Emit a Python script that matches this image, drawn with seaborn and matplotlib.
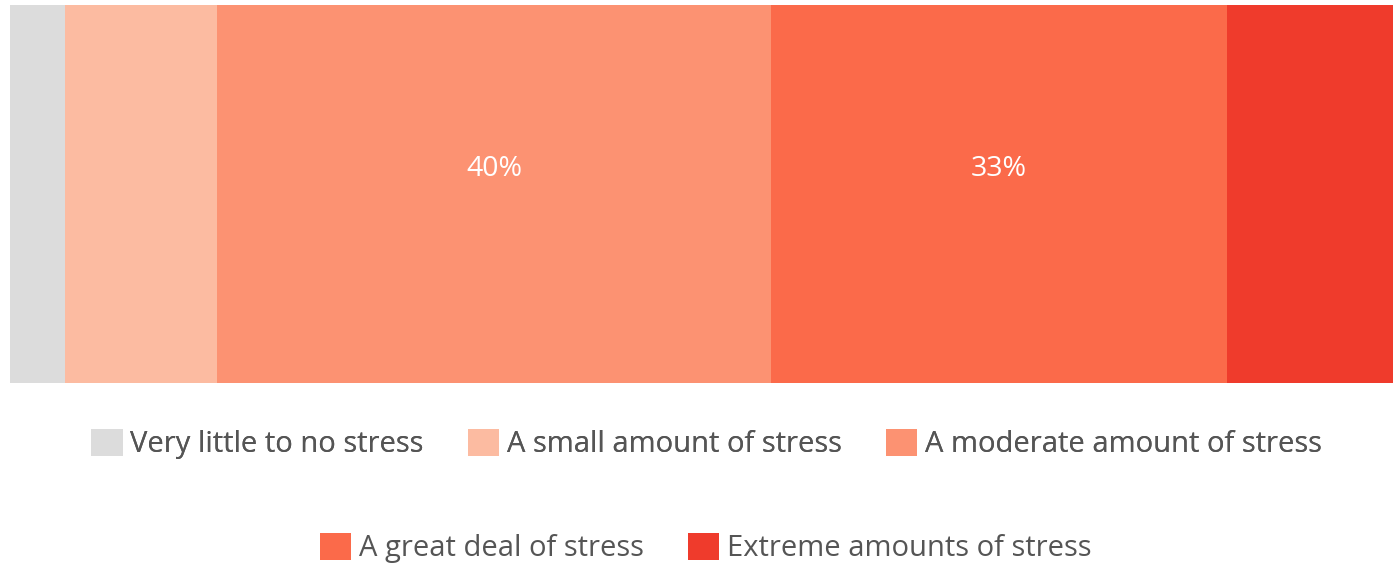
import numpy as np
import pandas as pd
import matplotlib
matplotlib.use("Agg")
import matplotlib.pyplot as plt
import seaborn as sns
from matplotlib.patches import Patch

# Data
categories = ["Very little to no stress", "A small amount of stress",
              "A moderate amount of stress", "A great deal of stress",
              "Extreme amounts of stress"]
percentages = [4, 11, 40, 33, 12]
colors = ["#dcdcdc", "#fcbba1", "#fc9272", "#fb6a4a", "#ef3b2c"]
shown_labels = ["", "", "40%", "33%", ""]

sns.set_theme(style="white")
plt.rcParams["font.family"] = ["Open Sans", "DejaVu Sans"]

fig = plt.figure(figsize=(13.93, 5.66), dpi=100)
ax = fig.add_axes([10 / 1393, 1 - 383 / 566, 1383 / 1393, 378 / 566])

# stacked bars: draw cumulative totals from largest to smallest
cum = np.cumsum(percentages)
for i in reversed(range(len(categories))):
    sns.barplot(x=[cum[i]], y=["Stress"], color=colors[i], width=1.0,
                saturation=1, orient="h", ax=ax, edgecolor="none", linewidth=0)

ax.set_xlim(0, 100)
ax.set_ylim(0.5, -0.5)
ax.axis("off")

starts = cum - np.array(percentages)
for s, p, lab in zip(starts, percentages, shown_labels):
    if lab:
        ax.text(s + p / 2, -0.065, lab, ha="center", va="center",
                color="white", fontsize=20.5)

handles = [Patch(facecolor=c, edgecolor="none") for c in colors]
leg_kw = dict(frameon=False, fontsize=21, handlelength=1.08, handleheight=1.08,
              handletextpad=0.27, columnspacing=1.5, labelcolor="#555555")
leg1 = fig.legend(handles[:3], categories[:3], ncol=3, loc="center",
                  bbox_to_anchor=(0.5 + 10 / 1393, 1 - 444 / 566), **leg_kw)
fig.add_artist(leg1)
fig.legend(handles[3:], categories[3:], ncol=2, loc="center",
           bbox_to_anchor=(0.5 + 9 / 1393, 1 - 548 / 566), **leg_kw)

fig.savefig("out.png", dpi=100)
